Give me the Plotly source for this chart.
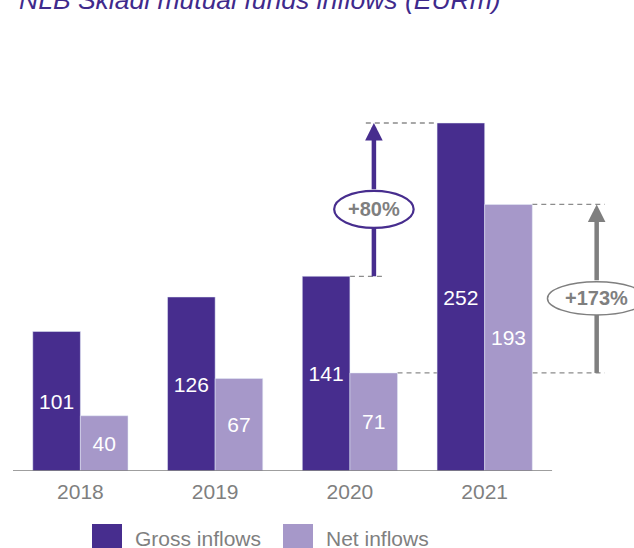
import plotly.graph_objects as go

years = ["2018", "2019", "2020", "2021"]
gross = [101, 126, 141, 252]
net = [40, 67, 71, 193]
growth_labels = ["+80%", "+173%"]

GROSS_C = "#472D8E"
NET_C = "#A698C9"
GRAY = "#7F7F7F"
FONT = "Liberation Sans, Arial, sans-serif"

fig = go.Figure()
fig.add_trace(go.Bar(x=years, y=gross, name="Gross inflows", marker_color=GROSS_C,
                     text=[str(v) for v in gross], textposition="inside",
                     insidetextanchor="middle", textangle=0, constraintext="none",
                     textfont=dict(color="white", size=21, family=FONT)))
fig.add_trace(go.Bar(x=years, y=net, name="Net inflows", marker_color=NET_C,
                     text=[str(v) for v in net], textposition="inside",
                     insidetextanchor="middle", textangle=0, constraintext="none",
                     textfont=dict(color="white", size=21, family=FONT)))

half = 0.3533  # bar width in category units
shapes = []
annotations = []

# baseline
shapes.append(dict(type="line", xref="x", yref="y", x0=-0.5, x1=3.5, y0=0, y1=0,
                   line=dict(color=GRAY, width=1.5), layer="above"))

def growth(xa, base, top, base_x0, base_x1, top_x0, top_x1, color, label, lw, ell_half_w, eh):
    dash = dict(color="#8C8C8C", width=1.3, dash="5px,4px")
    shapes.append(dict(type="line", xref="x", yref="y", x0=base_x0, x1=base_x1, y0=base, y1=base,
                       line=dash, layer="below"))
    shapes.append(dict(type="line", xref="x", yref="y", x0=top_x0, x1=top_x1, y0=top, y1=top,
                       line=dash, layer="below"))
    cy = (base + top) / 2 - 7
    # lower shaft
    shapes.append(dict(type="line", xref="x", yref="y", x0=xa, x1=xa, y0=base, y1=cy - eh,
                       line=dict(color=color, width=4.5), layer="above"))
    # upper shaft with head
    annotations.append(dict(x=xa, y=top, ax=xa, ay=cy + eh, xref="x", yref="y", axref="x", ayref="y",
                            text="", showarrow=True, arrowhead=2, arrowsize=0.78,
                            arrowwidth=4.5, arrowcolor=color, standoff=0, startstandoff=0))
    # ellipse
    shapes.append(dict(type="circle", xref="x", yref="y", x0=xa - ell_half_w, x1=xa + ell_half_w,
                       y0=cy - eh, y1=cy + eh, fillcolor="white",
                       line=dict(color=color, width=lw), layer="above"))
    annotations.append(dict(x=xa, y=cy, xref="x", yref="y", text="<b>%s</b>" % label,
                            showarrow=False, font=dict(size=20, color=GRAY, family=FONT)))

a1 = 2.178
growth(a1, gross[2], gross[3], 2, a1 + 0.065, a1 - 0.06, 3 - half, GROSS_C, growth_labels[0], 2.2, 0.295, 13.4)
a2 = 3.831
growth(a2, net[2], net[3], 2 + half, a2 + 0.06, 3 + half, a2 + 0.06, GRAY, growth_labels[1], 1.5, 0.365, 12.0)

# title (partially cut at top)
annotations.append(dict(xref="paper", yref="paper", x=0.0064, y=1.093, xanchor="left", yanchor="middle",
                        text="<i>NLB Skladi mutual funds inflows (EURm)</i>", showarrow=False,
                        font=dict(size=26.5, color="#3F2A8C", family=FONT)))

# custom legend
def px_to_paper_x(px):
    return (px - 13) / 621.0

def px_to_paper_y(py):
    return (471 - py) / 431.0

for (x0, x1, col, label, tx) in [(92, 122, GROSS_C, "Gross inflows", 133), (283, 313, NET_C, "Net inflows", 324)]:
    shapes.append(dict(type="rect", xref="paper", yref="paper",
                       x0=px_to_paper_x(x0), x1=px_to_paper_x(x1),
                       y0=px_to_paper_y(548), y1=px_to_paper_y(524),
                       fillcolor=col, line=dict(width=0)))
    annotations.append(dict(xref="paper", yref="paper", x=px_to_paper_x(tx), y=px_to_paper_y(538),
                            xanchor="left", yanchor="middle", text=label, showarrow=False,
                            font=dict(size=21, color=GRAY, family=FONT)))

fig.update_layout(
    width=634, height=548,
    margin=dict(l=13, r=0, t=40, b=77),
    paper_bgcolor="white", plot_bgcolor="white",
    barmode="group", bargap=0.2935, bargroupgap=0,
    showlegend=False,
    font=dict(family=FONT, color=GRAY),
    xaxis=dict(type="category", range=[-0.5, 4.108], showline=False, showgrid=False,
               zeroline=False, ticks="", ticklabelstandoff=6,
               tickfont=dict(size=21, color=GRAY, family=FONT)),
    yaxis=dict(range=[0, 312.1], visible=False, showgrid=False, zeroline=False),
    shapes=shapes, annotations=annotations,
)

fig.write_html("out.html", config={"displayModeBar": False},
               post_script="document.body.style.margin='0';document.body.style.overflow='hidden';")
